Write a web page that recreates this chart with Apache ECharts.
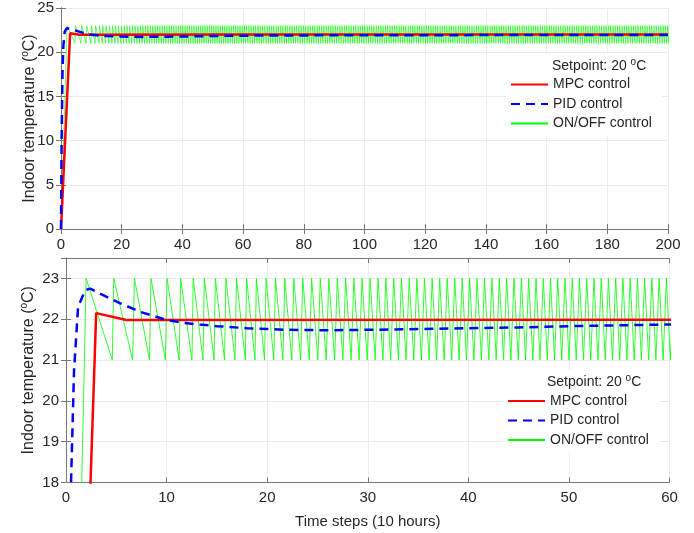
<!DOCTYPE html>
<html>
<head>
<meta charset="utf-8">
<script src="https://cdn.jsdelivr.net/npm/echarts@6/dist/echarts.min.js"></script>
<style>
  html, body { margin: 0; padding: 0; background: #fff; }
  #chart { width: 694px; height: 533px; }
</style>
</head>
<body>
<div id="chart"></div>
<script>
// MPC controller response: [time step, indoor temperature]
const mpcTime = [0, 3, 6, 60, 200];
const mpcTemp = [0, 22.15, 21.98, 21.99, 22.0];

// PID controller response
const pidTime = [0, 0.2, 0.5, 0.8, 1.2, 1.9, 2.4, 3.7, 5.4, 7.4, 8.7, 10, 11.7, 13.3, 15, 18, 22, 26, 30, 35, 40, 45, 50, 55, 60, 80, 100, 130, 160, 200];
const pidTemp = [0, 10, 18, 20.75, 22.3, 22.71, 22.75, 22.59, 22.39, 22.18, 22.08, 21.98, 21.91, 21.87, 21.83, 21.78, 21.74, 21.73, 21.74, 21.76, 21.78, 21.8, 21.83, 21.85, 21.87, 21.9, 21.92, 21.93, 21.94, 21.95];

// ON/OFF controller: start point, then the instants where the
// temperature reaches the upper band (23 °C) and the lower band (21 °C)
const onoffStart = [0, 0];
const onoffUpper = [
  2.0, 4.75, 6.8, 8.45, 10.05, 11.4, 12.65, 13.75, 14.85, 15.9,
  16.95, 17.95, 18.93, 19.89, 20.83, 21.75, 22.65, 23.54, 24.42, 25.28,
  26.13, 26.97, 27.80, 28.62, 29.43, 30.23, 31.02, 31.80, 32.58, 33.35,
  34.12, 34.88, 35.64, 36.40, 37.15, 37.90, 38.65, 39.39, 40.13, 40.87,
  41.61, 42.35, 43.08, 43.81, 44.54, 45.27, 46.00, 46.73, 47.45, 48.17,
  48.89, 49.61, 50.33, 51.05, 51.77, 52.49, 53.21, 53.93, 54.65, 55.37,
  56.09, 56.81, 57.53, 58.25, 58.97, 59.69, 60.41,
  61.1, 61.9, 62.6, 63.4, 64.1, 64.9, 65.6, 66.4, 67.1, 67.9,
  68.6, 69.4, 70.1, 70.9, 71.6, 72.4, 73.1, 73.9, 74.6, 75.4,
  76.1, 76.9, 77.6, 78.4, 79.1, 79.9, 80.6, 81.4, 82.1, 82.9,
  83.6, 84.4, 85.1, 85.9, 86.6, 87.4, 88.1, 88.9, 89.6, 90.4,
  91.1, 91.9, 92.6, 93.4, 94.1, 94.9, 95.6, 96.4, 97.1, 97.9,
  98.6, 99.4, 100.1, 100.9, 101.6, 102.4, 103.1, 103.9, 104.6, 105.4,
  106.1, 106.9, 107.6, 108.4, 109.1, 109.9, 110.6, 111.4, 112.1, 112.9,
  113.6, 114.4, 115.1, 115.9, 116.6, 117.4, 118.1, 118.9, 119.6, 120.4,
  121.1, 121.9, 122.6, 123.4, 124.1, 124.9, 125.6, 126.4, 127.1, 127.9,
  128.6, 129.4, 130.1, 130.9, 131.6, 132.4, 133.1, 133.9, 134.6, 135.4,
  136.1, 136.9, 137.6, 138.4, 139.1, 139.9, 140.6, 141.4, 142.1, 142.9,
  143.6, 144.4, 145.1, 145.9, 146.6, 147.4, 148.1, 148.9, 149.6, 150.4,
  151.1, 151.9, 152.6, 153.4, 154.1, 154.9, 155.6, 156.4, 157.1, 157.9,
  158.6, 159.4, 160.1, 160.9, 161.6, 162.4, 163.1, 163.9, 164.6, 165.4,
  166.1, 166.9, 167.6, 168.4, 169.1, 169.9, 170.6, 171.4, 172.1, 172.9,
  173.6, 174.4, 175.1, 175.9, 176.6, 177.4, 178.1, 178.9, 179.6, 180.4,
  181.1, 181.9, 182.6, 183.4, 184.1, 184.9, 185.6, 186.4, 187.1, 187.9,
  188.6, 189.4, 190.1, 190.9, 191.6, 192.4, 193.1, 193.9, 194.6, 195.4,
  196.1, 196.9, 197.6, 198.4, 199.1, 199.9, 200.6
];
const onoffLower = [
  4.6, 6.62, 8.3, 9.88, 11.25, 12.52, 13.62, 14.72, 15.76, 16.8,
  17.83, 18.79, 19.74, 20.66, 21.57, 22.45, 23.33, 24.19, 25.04, 25.87,
  26.71, 27.53, 28.35, 29.15, 29.95, 30.74, 31.51, 32.28, 33.05, 33.81,
  34.58, 35.34, 36.10, 36.85, 37.60, 38.35, 39.08, 39.82, 40.56, 41.30,
  42.04, 42.77, 43.50, 44.23, 44.96, 45.69, 46.42, 47.13, 47.85, 48.57,
  49.29, 50.01, 50.73, 51.45, 52.17, 52.89, 53.61, 54.33, 55.05, 55.77,
  56.49, 57.21, 57.93, 58.65, 59.37, 60.09,
  60.8, 61.6, 62.3, 63.1, 63.8, 64.6, 65.3, 66.1, 66.8, 67.6,
  68.3, 69.1, 69.8, 70.6, 71.3, 72.1, 72.8, 73.6, 74.3, 75.1,
  75.8, 76.6, 77.3, 78.1, 78.8, 79.6, 80.3, 81.1, 81.8, 82.6,
  83.3, 84.1, 84.8, 85.6, 86.3, 87.1, 87.8, 88.6, 89.3, 90.1,
  90.8, 91.6, 92.3, 93.1, 93.8, 94.6, 95.3, 96.1, 96.8, 97.6,
  98.3, 99.1, 99.8, 100.6, 101.3, 102.1, 102.8, 103.6, 104.3, 105.1,
  105.8, 106.6, 107.3, 108.1, 108.8, 109.6, 110.3, 111.1, 111.8, 112.6,
  113.3, 114.1, 114.8, 115.6, 116.3, 117.1, 117.8, 118.6, 119.3, 120.1,
  120.8, 121.6, 122.3, 123.1, 123.8, 124.6, 125.3, 126.1, 126.8, 127.6,
  128.3, 129.1, 129.8, 130.6, 131.3, 132.1, 132.8, 133.6, 134.3, 135.1,
  135.8, 136.6, 137.3, 138.1, 138.8, 139.6, 140.3, 141.1, 141.8, 142.6,
  143.3, 144.1, 144.8, 145.6, 146.3, 147.1, 147.8, 148.6, 149.3, 150.1,
  150.8, 151.6, 152.3, 153.1, 153.8, 154.6, 155.3, 156.1, 156.8, 157.6,
  158.3, 159.1, 159.8, 160.6, 161.3, 162.1, 162.8, 163.6, 164.3, 165.1,
  165.8, 166.6, 167.3, 168.1, 168.8, 169.6, 170.3, 171.1, 171.8, 172.6,
  173.3, 174.1, 174.8, 175.6, 176.3, 177.1, 177.8, 178.6, 179.3, 180.1,
  180.8, 181.6, 182.3, 183.1, 183.8, 184.6, 185.3, 186.1, 186.8, 187.6,
  188.3, 189.1, 189.8, 190.6, 191.3, 192.1, 192.8, 193.6, 194.3, 195.1,
  195.8, 196.6, 197.3, 198.1, 198.8, 199.6, 200.3
];
const bandHigh = 23;
const bandLow = 21;

// Axis ticks
const topXTicks = { min: 0, max: 200, step: 20 };
const topYTicks = { min: 0, max: 25, step: 5 };
const botXTicks = { min: 0, max: 60, step: 10 };
const botYTicks = { min: 18, max: 23.5, step: 1 };

const setpointText = 'Setpoint: 20 {s|o}C';
const yTitle = 'Indoor temperature ({s|o}C)';
const xTitle = 'Time steps (10 hours)';
const names = ['MPC control', 'PID control', 'ON/OFF control'];

const zip = (a, b) => a.map((v, i) => [v, b[i]]);
const mpcData = zip(mpcTime, mpcTemp);
const pidData = zip(pidTime, pidTemp);
const onoffData = [onoffStart];
onoffUpper.forEach((t, i) => {
  onoffData.push([t, bandHigh]);
  if (i < onoffLower.length) onoffData.push([onoffLower[i], bandLow]);
});

const FONT = '"Liberation Sans", Arial, Helvetica, sans-serif';
const INK = '#262626';
const FRAME = '#777777';
const GRIDC = '#ebebeb';
// raised small "o" used as the degree mark
const supStyle = (size) => ({ fontSize: size, fontFamily: FONT, color: INK, fill: INK,
  lineHeight: size, verticalAlign: 'top' });

function xAxes(g, t) {
  return [
    { gridIndex: g, type: 'value', min: t.min, max: t.max, interval: t.step,
      axisLine: { lineStyle: { color: FRAME, width: 1 } },
      axisTick: { inside: true, length: 5, lineStyle: { color: FRAME } },
      axisLabel: { color: INK, fontSize: 15, fontFamily: FONT, margin: 8 },
      splitLine: { show: true, lineStyle: { color: GRIDC, width: 1 } } },
    { gridIndex: g, type: 'value', position: 'top', min: t.min, max: t.max, interval: t.step,
      axisLine: { lineStyle: { color: FRAME, width: 1 } },
      axisTick: { inside: true, length: 5, lineStyle: { color: FRAME } },
      axisLabel: { show: false }, splitLine: { show: false } }
  ];
}
function yAxes(g, t, gap) {
  return [
    { gridIndex: g, type: 'value', min: t.min, max: t.max, interval: t.step,
      name: yTitle, nameLocation: 'middle', nameGap: gap, nameMoveOverlap: false,
      nameTextStyle: { color: INK, fontSize: 16, fontFamily: FONT, lineHeight: 20,
        rich: { s: supStyle(10) } },
      axisLine: { lineStyle: { color: FRAME, width: 1 } },
      axisTick: { inside: true, length: 5, lineStyle: { color: FRAME } },
      axisLabel: { color: INK, fontSize: 15, fontFamily: FONT, margin: 7,
        showMaxLabel: t.max % t.step === 0 },
      splitLine: { show: true, lineStyle: { color: GRIDC, width: 1 } } },
    { gridIndex: g, type: 'value', position: 'right', min: t.min, max: t.max, interval: t.step,
      axisLine: { lineStyle: { color: FRAME, width: 1 } },
      axisTick: { inside: true, length: 5, lineStyle: { color: FRAME } },
      axisLabel: { show: false }, splitLine: { show: false } }
  ];
}

function seriesFor(xi, yi, greenWidth) {
  return [
    { name: names[2], type: 'line', xAxisIndex: xi, yAxisIndex: yi, data: onoffData,
      symbol: 'none', showSymbol: false, animation: false, z: 2,
      lineStyle: { color: '#00ff00', width: greenWidth }, itemStyle: { color: '#00ff00' } },
    { name: names[1], type: 'line', xAxisIndex: xi, yAxisIndex: yi, data: pidData,
      symbol: 'none', showSymbol: false, animation: false, z: 4,
      lineStyle: { color: '#0000ff', width: 2.5, type: [9, 6] }, itemStyle: { color: '#0000ff' } },
    { name: names[0], type: 'line', xAxisIndex: xi, yAxisIndex: yi, data: mpcData,
      symbol: 'none', showSymbol: false, animation: false, z: 3,
      lineStyle: { color: '#ff0000', width: 2.5 }, itemStyle: { color: '#ff0000' } }
  ];
}

function legendAt(left, top) {
  return {
    data: names, orient: 'vertical', left: left, top: top,
    backgroundColor: '#ffffff', padding: [24, 10, 6, 4],
    itemWidth: 37, itemHeight: 14, itemGap: 5.5, selectedMode: false,
    itemStyle: { opacity: 0, borderWidth: 0 },
    textStyle: { color: INK, fontSize: 14, fontFamily: FONT }
  };
}
function setpointLabel(left, top) {
  return {
    type: 'text', left: left, top: top, z: 100,
    style: { text: setpointText, fill: INK, fontSize: 14, fontFamily: FONT, lineHeight: 18,
      rich: { s: supStyle(10) } }
  };
}

const chart = echarts.init(document.getElementById('chart'), null, { renderer: 'canvas' });
const xs = [...xAxes(0, topXTicks), ...xAxes(1, botXTicks)];
Object.assign(xs[2], { name: xTitle, nameLocation: 'middle', nameGap: 32, nameMoveOverlap: false,
  nameTextStyle: { color: INK, fontSize: 15, fontFamily: FONT } });
chart.setOption({
  backgroundColor: '#ffffff',
  animation: false,
  grid: [
    { left: 61, top: 8, width: 607, height: 221 },
    { left: 66, top: 258, width: 603.5, height: 224.5 }
  ],
  xAxis: xs,
  yAxis: [...yAxes(0, topYTicks, 21), ...yAxes(1, botYTicks, 27)],
  legend: [legendAt(506, 53.5), legendAt(503, 370)],
  graphic: [setpointLabel(552, 57), setpointLabel(547, 373)],
  series: [...seriesFor(0, 0, 0.6), ...seriesFor(2, 2, 0.8)]
});
</script>
</body>
</html>
